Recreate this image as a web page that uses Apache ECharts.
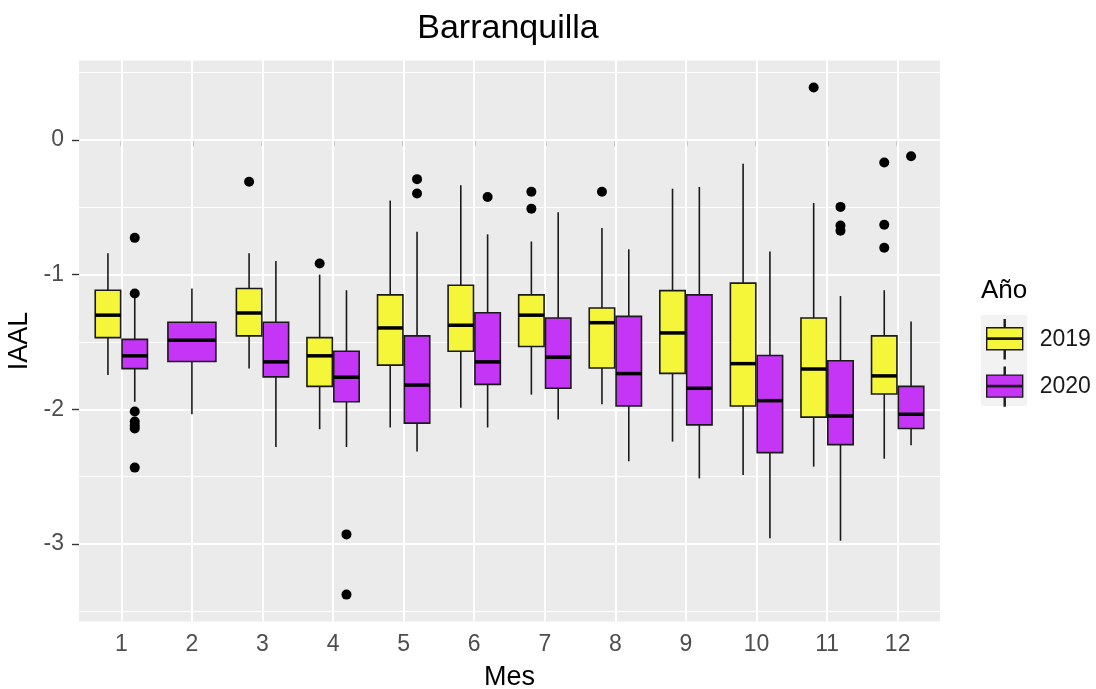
<!DOCTYPE html>
<html>
<head>
<meta charset="utf-8">
<script src="https://cdn.jsdelivr.net/npm/echarts@6/dist/echarts.min.js"></script>
<style>
  html, body { margin: 0; padding: 0; background: #fff; }
  #chart { width: 1096px; height: 689px; }
</style>
</head>
<body>
<div id="chart"></div>
<script>
  const months = [1, 2, 3, 4, 5, 6, 7, 8, 9, 10, 11, 12];
  const years = ["2019", "2020"];
  const yTicks = [-3, -2, -1, 0];
  const yMinor = [-3.5, -2.5, -1.5, -0.5, 0.5];

  // [mes, whisker low, q1, mediana, q3, whisker high]
  const box2019 = [
    [1, -1.746, -1.468, -1.301, -1.116, -0.841],
    [3, -1.698, -1.455, -1.285, -1.103, -0.841],
    [4, -2.148, -1.83, -1.603, -1.468, -1.0],
    [5, -2.135, -1.672, -1.396, -1.15, -0.45],
    [6, -1.989, -1.569, -1.376, -1.079, -0.336],
    [7, -1.891, -1.534, -1.301, -1.15, -0.754],
    [8, -1.963, -1.693, -1.357, -1.248, -0.653],
    [9, -2.24, -1.733, -1.433, -1.119, -0.362],
    [10, -2.487, -1.976, -1.661, -1.063, -0.177],
    [11, -2.426, -2.058, -1.701, -1.322, -0.468],
    [12, -2.367, -1.886, -1.752, -1.455, -1.116],
  ];
  const box2020 = [
    [1, -1.944, -1.698, -1.603, -1.481, -1.17],
    [2, -2.037, -1.645, -1.487, -1.354, -1.103],
    [3, -2.28, -1.759, -1.648, -1.354, -0.899],
    [4, -2.28, -1.944, -1.762, -1.569, -1.116],
    [5, -2.314, -2.103, -1.82, -1.455, -0.682],
    [6, -2.135, -1.815, -1.648, -1.283, -0.701],
    [7, -2.076, -1.844, -1.613, -1.322, -0.537],
    [8, -2.386, -1.976, -1.735, -1.31, -0.812],
    [9, -2.513, -2.116, -1.844, -1.15, -0.349],
    [10, -2.958, -2.322, -1.936, -1.6, -0.828],
    [11, -2.976, -2.262, -2.05, -1.64, -1.159],
    [12, -2.267, -2.143, -2.037, -1.83, -1.349],
  ];
  const outliers2019 = [
    [3, -0.31], [4, -0.918], [7, -0.384], [7, -0.51], [8, -0.384],
    [11, 0.39], [12, -0.167], [12, -0.63], [12, -0.801],
  ];
  const outliers2020 = [
    [1, -0.727], [1, -1.14], [1, -2.016], [1, -2.09], [1, -2.12], [1, -2.143],
    [1, -2.433], [4, -2.929], [4, -3.376], [5, -0.291], [5, -0.397], [6, -0.423],
    [11, -0.497], [11, -0.635], [11, -0.674], [12, -0.121],
  ];

  const colors = { "2019": "#F5F53A", "2020": "#C535F5" };
  const boxW = 0.36;
  const dodge = { "2019": -0.19, "2020": 0.19 };

  // meses con datos en ambos años (los demás ocupan todo el ancho)
  const m2019 = box2019.map((d) => d[0]);
  const bothYears = box2020.map((d) => d[0]).filter((m) => m2019.includes(m));

  function boxRenderer(year) {
    return function (params, api) {
      const m = api.value(0);
      const single = !bothYears.includes(m);
      const xc = m + (single ? 0 : dodge[year]);
      const w = single ? 0.68 : boxW;
      const lo = api.coord([xc, api.value(1)]);
      const q1 = api.coord([xc, api.value(2)]);
      const med = api.coord([xc, api.value(3)]);
      const q3 = api.coord([xc, api.value(4)]);
      const hi = api.coord([xc, api.value(5)]);
      const x0 = api.coord([xc - w / 2, 0])[0];
      const x1 = api.coord([xc + w / 2, 0])[0];
      const line = { stroke: "#1a1a1a", lineWidth: 1.6 };
      return {
        type: "group",
        children: [
          { type: "line", shape: { x1: lo[0], y1: lo[1], x2: q1[0], y2: q1[1] }, style: line },
          { type: "line", shape: { x1: q3[0], y1: q3[1], x2: hi[0], y2: hi[1] }, style: line },
          {
            type: "rect",
            shape: { x: x0, y: q3[1], width: x1 - x0, height: q1[1] - q3[1] },
            style: { fill: colors[year], stroke: "#1a1a1a", lineWidth: 1.6 },
          },
          { type: "line", shape: { x1: x0, y1: med[1], x2: x1, y2: med[1] }, style: { stroke: "#000", lineWidth: 3.5 } },
        ],
      };
    };
  }

  function outlierData(year, list) {
    return list.map((d) => [d[0] + (bothYears.includes(d[0]) ? dodge[year] : 0), d[1]]);
  }

  const gridLines = [
    ...months.map((m) => ({ xAxis: m, lineStyle: { width: 2 } })),
    ...yTicks.map((v) => ({ yAxis: v, lineStyle: { width: 2 } })),
    ...yMinor.map((v) => ({ yAxis: v, lineStyle: { width: 1.1 } })),
  ];

  const boxIcon =
    "path://M17.5,0h1v8h-1z M0,8h36v22h-36z M0,18.3h36v1.4h-36z M17.5,30h1v9h-1z";

  const chart = echarts.init(document.getElementById("chart"), null, { renderer: "canvas" });
  const font = "'Liberation Sans', Arial, sans-serif";

  const option = {
    animation: false,
    textStyle: { fontFamily: font },
    title: [
      {
        text: "Barranquilla",
        left: 508,
        top: 12,
        padding: 0,
        textAlign: "center",
        textStyle: { fontSize: 34, fontWeight: "normal", color: "#000", fontFamily: font },
      },
      {
        text: "Año",
        left: 981,
        top: 278,
        padding: 0,
        textStyle: { fontSize: 26, fontWeight: "normal", color: "#000", fontFamily: font },
      },
    ],
    legend: {
      data: years,
      orient: "vertical",
      left: 986,
      top: 319,
      padding: 0,
      itemWidth: 36,
      itemHeight: 39,
      itemGap: 7,
      icon: boxIcon,
      selectedMode: false,
      itemStyle: { borderColor: "#1a1a1a", borderWidth: 1.4 },
      textStyle: { fontSize: 23, color: "#1a1a1a", fontFamily: font, padding: [0, 0, 0, 12] },
    },
    graphic: [
      {
        type: "rect",
        left: 981,
        top: 315,
        z: -1,
        shape: { width: 46, height: 91 },
        style: { fill: "#F2F2F2" },
      },
    ],
    grid: {
      left: 79,
      right: 156,
      top: 60.5,
      bottom: 67.6,
      outerBoundsMode: "none",
      containLabel: false,
      show: true,
      backgroundColor: "#EBEBEB",
      borderWidth: 0,
    },
    xAxis: {
      type: "value",
      min: 0.4,
      max: 12.6,
      name: "Mes",
      nameLocation: "middle",
      nameGap: 43,
      nameTextStyle: { fontSize: 27, color: "#000" },
      axisLine: { show: false },
      axisTick: { show: true, length: 6, lineStyle: { color: "#333", width: 1.4 }, customValues: months },
      axisLabel: { customValues: months, fontSize: 23, color: "#4D4D4D", margin: 12 },
      splitLine: { show: false },
    },
    yAxis: {
      type: "value",
      min: -3.575,
      max: 0.59,
      name: "IAAL",
      nameLocation: "middle",
      nameGap: 41,
      nameRotate: 90,
      nameTextStyle: { fontSize: 27, color: "#000" },
      axisLine: { show: false },
      axisTick: { show: true, length: 7, lineStyle: { color: "#333", width: 1.4 }, customValues: yTicks },
      axisLabel: { customValues: yTicks, fontSize: 23, color: "#4D4D4D", margin: 15 },
      splitLine: { show: false },
    },
    series: [
      {
        name: "grid",
        type: "line",
        data: [],
        z: 1,
        silent: true,
        markLine: {
          z: 1,
          silent: true,
          symbol: "none",
          label: { show: false },
          lineStyle: { color: "#FFFFFF", type: "solid" },
          data: gridLines,
        },
      },
      {
        name: "2019",
        type: "custom",
        z: 2,
        itemStyle: { color: colors["2019"] },
        encode: { x: 0, y: [1, 2, 3, 4, 5] },
        renderItem: boxRenderer("2019"),
        data: box2019,
      },
      {
        name: "2020",
        type: "custom",
        z: 2,
        itemStyle: { color: colors["2020"] },
        encode: { x: 0, y: [1, 2, 3, 4, 5] },
        renderItem: boxRenderer("2020"),
        data: box2020,
      },
      {
        name: "out2019",
        type: "scatter",
        z: 3,
        symbolSize: 10,
        itemStyle: { color: "#000", opacity: 1 },
        data: outlierData("2019", outliers2019),
      },
      {
        name: "out2020",
        type: "scatter",
        z: 3,
        symbolSize: 10,
        itemStyle: { color: "#000", opacity: 1 },
        data: outlierData("2020", outliers2020),
      },
    ],
  };

  chart.setOption(option);
</script>
</body>
</html>
